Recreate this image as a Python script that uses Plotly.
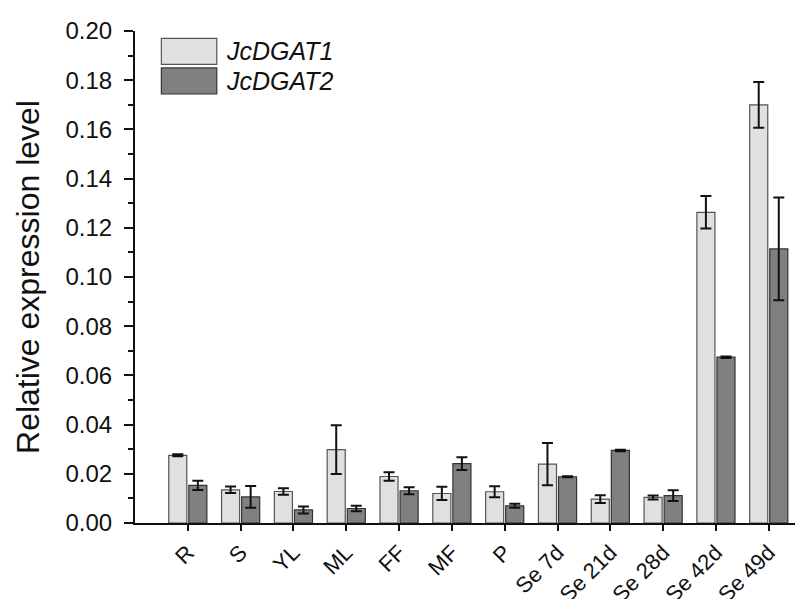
import plotly.graph_objects as go

categories = ["R", "S", "YL", "ML", "FF", "MF", "P", "Se 7d", "Se 21d", "Se 28d", "Se 42d", "Se 49d"]
dgat1 = [0.0275, 0.0135, 0.0128, 0.0298, 0.0189, 0.0120, 0.0127, 0.0239, 0.0097, 0.0104, 0.1263, 0.1700]
dgat1_err = [0.0004, 0.0013, 0.0013, 0.0099, 0.0017, 0.0027, 0.0022, 0.0086, 0.0016, 0.0008, 0.0066, 0.0093]
dgat2 = [0.0153, 0.0106, 0.0053, 0.0059, 0.0131, 0.0241, 0.0070, 0.0188, 0.0295, 0.0111, 0.0674, 0.1114]
dgat2_err = [0.0019, 0.0044, 0.0014, 0.0011, 0.0014, 0.0026, 0.0008, 0.0002, 0.0003, 0.0022, 0.0003, 0.0209]
series_names = ["JcDGAT1", "JcDGAT2"]
y_ticks = [0.00, 0.02, 0.04, 0.06, 0.08, 0.10, 0.12, 0.14, 0.16, 0.18, 0.20]

FONT = "Liberation Sans, Arial, sans-serif"
fill1, line1 = "#e0e0e0", "#555555"
fill2, line2 = "#808080", "#333333"

fig = go.Figure()
for vals, errs, name, fc, lc in [(dgat1, dgat1_err, series_names[0], fill1, line1),
                                  (dgat2, dgat2_err, series_names[1], fill2, line2)]:
    fig.add_trace(go.Bar(
        x=categories, y=vals, name=name,
        marker=dict(color=fc, line=dict(color=lc, width=1.2)),
        error_y=dict(type="data", array=errs, visible=True, color="#111111", thickness=2, width=5.5),
        showlegend=False,
    ))

fig.update_layout(
    width=803, height=599,
    margin=dict(l=127, r=0, t=23, b=71),
    plot_bgcolor="white", paper_bgcolor="white",
    barmode="group", bargap=0.24, bargroupgap=0.1,
    font=dict(family=FONT, color="#111111"),
    xaxis=dict(
        range=[-1, 11.8], showline=True, linecolor="#111111", linewidth=2,
        ticks="outside", ticklen=6, tickwidth=2, tickcolor="#111111",
        tickangle=-45, tickfont=dict(size=22, family=FONT), showgrid=False, zeroline=False,
    ),
    yaxis=dict(
        range=[0, 0.2], tickvals=y_ticks, ticktext=[f"{v:.2f}" for v in y_ticks],
        showline=True, linecolor="#111111", linewidth=2,
        ticks="outside", ticklen=9, tickwidth=2, tickcolor="#111111",
        minor=dict(dtick=0.01, ticks="outside", ticklen=5, tickwidth=2, tickcolor="#111111", showgrid=False),
        tickfont=dict(size=24, family=FONT), showgrid=False, zeroline=False,
        ticklabelstandoff=7,
        title=dict(text="Relative expression level", font=dict(size=32, family=FONT), standoff=16),
    ),
)

# legend drawn as swatches + italic labels
legend_items = [(series_names[0], fill1, line1, 0.985), (series_names[1], fill2, line2, 0.925)]
for name, fc, lc, ytop in legend_items:
    fig.add_shape(type="rect", xref="paper", yref="paper",
                  x0=0.039, x1=0.121, y0=ytop - 0.053, y1=ytop,
                  fillcolor=fc, line=dict(color=lc, width=1.2))
    fig.add_annotation(xref="paper", yref="paper", x=0.132, y=ytop - 0.0265,
                       text=f"<i>{name}</i>", showarrow=False, xanchor="left", yanchor="middle",
                       font=dict(size=25, family=FONT, color="#111111"))

fig.write_html("out.html")
